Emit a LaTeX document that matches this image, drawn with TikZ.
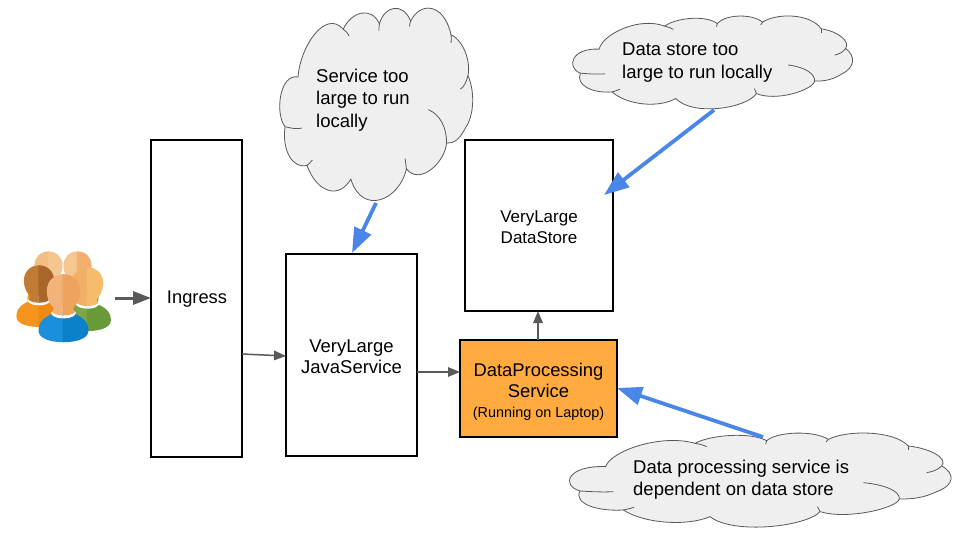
\documentclass[tikz,border=0pt]{standalone}
\usepackage{fontspec}
\setmainfont{Liberation Sans}
\usetikzlibrary{arrows.meta}
\definecolor{cloudfill}{HTML}{EFEFEF}
\definecolor{cloudline}{HTML}{595959}
\definecolor{arrowgrey}{HTML}{595959}
\definecolor{arrowblue}{HTML}{4A86E8}
\definecolor{dporange}{HTML}{FFAB40}
\newcommand{\fsz}[2]{\fontsize{#1}{#2}\selectfont}
\tikzset{
  boxnode/.style={draw=black,line width=2pt,fill=white,inner sep=0pt,outer sep=0pt,anchor=north west},
  boxlabel/.style={inner sep=0pt,align=center,text=black},
  cloudtext/.style={inner sep=0pt,align=left,anchor=north west,text=black,font=\fsz{18.5}{22.3}},
  boldarrow/.style={draw=arrowgrey,line width=3pt,-{Triangle[length=18pt,width=13pt]}},
  thinarrow/.style={draw=arrowgrey,line width=1.5pt,-{Triangle[length=12pt,width=9.5pt]}},
  bluearrow/.style={draw=arrowblue,line width=3.8pt,-{Triangle[length=25pt,width=18pt]}},
  cloudoutline/.style={fill=cloudfill,draw=cloudline,line width=0.8pt},
  cloudtail/.style={draw=cloudline,line width=0.8pt}
}
% #1 x0, #2 y0, #3 width, #4 height
\newcommand{\cloudshape}[4]{%
  \pgfmathsetmacro{\csx}{#3/1145}\pgfmathsetmacro{\csy}{#4/295}%
  \begin{scope}[shift={({#1-30*\csx},{#2-30*\csy})},xscale=\csx,yscale=\csy]
    \path[cloudoutline] (137,140)
      .. controls (150,95) and (300,40) .. (405,70)
      .. controls (450,45) and (570,35) .. (620,62)
      .. controls (650,35) and (760,30) .. (805,58)
      .. controls (860,30) and (1000,30) .. (1045,78)
      .. controls (1110,85) and (1165,115) .. (1145,138)
      .. controls (1185,160) and (1185,195) .. (1130,215)
      .. controls (1095,232) and (1060,238) .. (1018,237)
      .. controls (1010,265) and (860,300) .. (780,275)
      .. controls (740,320) and (520,345) .. (450,290)
      .. controls (380,320) and (250,310) .. (190,270)
      .. controls (110,275) and (40,250) .. (60,213)
      .. controls (0,195) and (25,135) .. (137,140) -- cycle;
    \path[cloudtail] (405,70) .. controls (418,72) and (430,75) .. (440,80);
    \path[cloudtail] (620,62) .. controls (618,65) and (617,68) .. (617,72);
    \path[cloudtail] (805,58) .. controls (802,60) and (800,62) .. (798,66);
    \path[cloudtail] (1045,78) .. controls (1046,82) and (1046,85) .. (1045,90);
    \path[cloudtail] (1145,138) .. controls (1135,148) and (1120,155) .. (1100,158);
    \path[cloudtail] (1018,237) .. controls (1020,215) and (980,195) .. (910,188);
    \path[cloudtail] (780,275) .. controls (778,270) and (775,265) .. (772,260);
    \path[cloudtail] (190,270) .. controls (200,268) and (212,265) .. (222,262);
    \path[cloudtail] (60,213) .. controls (90,215) and (130,217) .. (160,215);
  \end{scope}}
% half of a person, head centre at origin, head half width 1; halves overlap slightly
\newcommand{\personhalf}[2]{%
  \definecolor{pchead}{HTML}{#1}\definecolor{pcbody}{HTML}{#2}%
  \fill[pcbody] (0.05,1.30) -- (-0.55,1.30) .. controls (-1.0,1.55) and (-1.56,1.75) .. (-1.56,2.45)
     .. controls (-1.56,2.95) and (-0.8,3.17) .. (0,3.17) -- (0.05,3.17) -- cycle;
  \fill[white] (0.05,1.68) -- (0,1.68) .. controls (-0.40,1.68) and (-0.78,1.55) .. (-0.78,1.32) -- (-0.3,1.0) -- (0.05,1.0) -- cycle;
  \fill[pchead] (0.05,-1.08) -- (0,-1.08) .. controls (-0.62,-1.08) and (-1.04,-0.62) .. (-1.04,-0.05)
     .. controls (-1.04,0.55) and (-0.80,0.85) .. (-0.62,1.02)
     .. controls (-0.62,1.15) and (-0.66,1.25) .. (-0.70,1.32)
     .. controls (-0.45,1.48) and (-0.2,1.50) .. (0,1.50) -- (0.05,1.50) -- cycle;}
% #1 x, #2 y, #3 head half width, #4 head left, #5 head right, #6 body left, #7 body right
\newcommand{\personicon}[7]{%
  \begin{scope}[shift={(#1,#2)},xscale=#3,yscale=#3]\personhalf{#4}{#6}\end{scope}
  \begin{scope}[shift={(#1,#2)},xscale=-#3,yscale=#3]\personhalf{#5}{#7}\end{scope}}
\begin{document}
\begin{tikzpicture}[x=1pt,y=-1pt]
\useasboundingbox (0,0) rectangle (960,540);
\fill[white] (0,0) rectangle (960,540);

% people
\personicon{48.5}{266}{13.5}{F2BE82}{F5C78E}{F7941D}{F7941D}
\personicon{77.5}{266}{13.5}{F5C78E}{F3AF6E}{7FA646}{7FA646}
\personicon{39}{281}{14.5}{C07C35}{A9662A}{F7941D}{EE8A12}
\personicon{87.5}{283.5}{15}{F0B06A}{F7BC6B}{7FA646}{689A3A}
\personicon{63.5}{291.5}{16}{F2B27A}{EEA35F}{1B8FDB}{0D80CC}

% boxes
\node[boxnode,minimum width=91pt,minimum height=317pt] (ingress) at (151,140) {};
\node[boxlabel,font=\fsz{18.3}{22}] (ingresslabel) at (197,299) {Ingress};
\node[boxnode,minimum width=131pt,minimum height=202pt] (jvm) at (286,254) {};
\node[boxlabel,font=\fsz{18.5}{21.5}] (jvmlabel) at (351.5,356.5) {VeryLarge\\JavaService};
\node[boxnode,minimum width=148pt,minimum height=171pt] (store) at (465,140) {};
\node[boxlabel,font=\fsz{17}{20.7}] (storelabel) at (539,227) {VeryLarge\\DataStore};
\node[boxnode,fill=dporange,minimum width=157pt,minimum height=97pt] (dp) at (460,340) {};
\node[boxlabel,font=\fsz{18.4}{21.5}] (dplabel) at (538.5,391.5)
  {DataProcessing\\Service\\[-2pt]{\fsz{14.4}{17}(Running on Laptop)}};

% clouds
\cloudshape{280}{2}{193}{201}
\cloudshape{573}{13}{280}{97}
\cloudshape{570}{430}{381.7}{98.3}
\node[cloudtext] (cloudone) at (316,69) {Service too\\large to run\\locally};
\node[cloudtext] (cloudtwo) at (622,43) {Data store too\\large to run locally};
\node[cloudtext] (cloudthree) at (633,460) {Data processing service is\\dependent on data store};

% connector ends
\coordinate (peopleend) at (115,298);
\coordinate (ingressin) at (ingress.west |- peopleend);
\coordinate (ingressout) at (242,354);
\coordinate (jvmin) at (286,356);
\coordinate (jvmout) at (417,372);
\coordinate (dpin) at (460,372);
\coordinate (dpout) at (538,340);
\coordinate (storein) at (538,311);
\coordinate (cloudoneend) at (376,203);
\coordinate (jvmtop) at (352,253);
\coordinate (cloudtwoend) at (714,110);
\coordinate (storeside) at (604,195);
\coordinate (cloudthreeend) at (763,437);
\coordinate (dpside) at (617,388);

% connectors
\draw[boldarrow] (peopleend) -- (ingressin);
\draw[thinarrow] (ingressout) -- (jvmin);
\draw[thinarrow] (jvmout) -- (dpin);
\draw[thinarrow] (dpout) -- (storein);
\draw[bluearrow] (cloudoneend) -- (jvmtop);
\draw[bluearrow] (cloudtwoend) -- (storeside);
\draw[bluearrow] (cloudthreeend) -- (dpside);
\end{tikzpicture}
\end{document}
